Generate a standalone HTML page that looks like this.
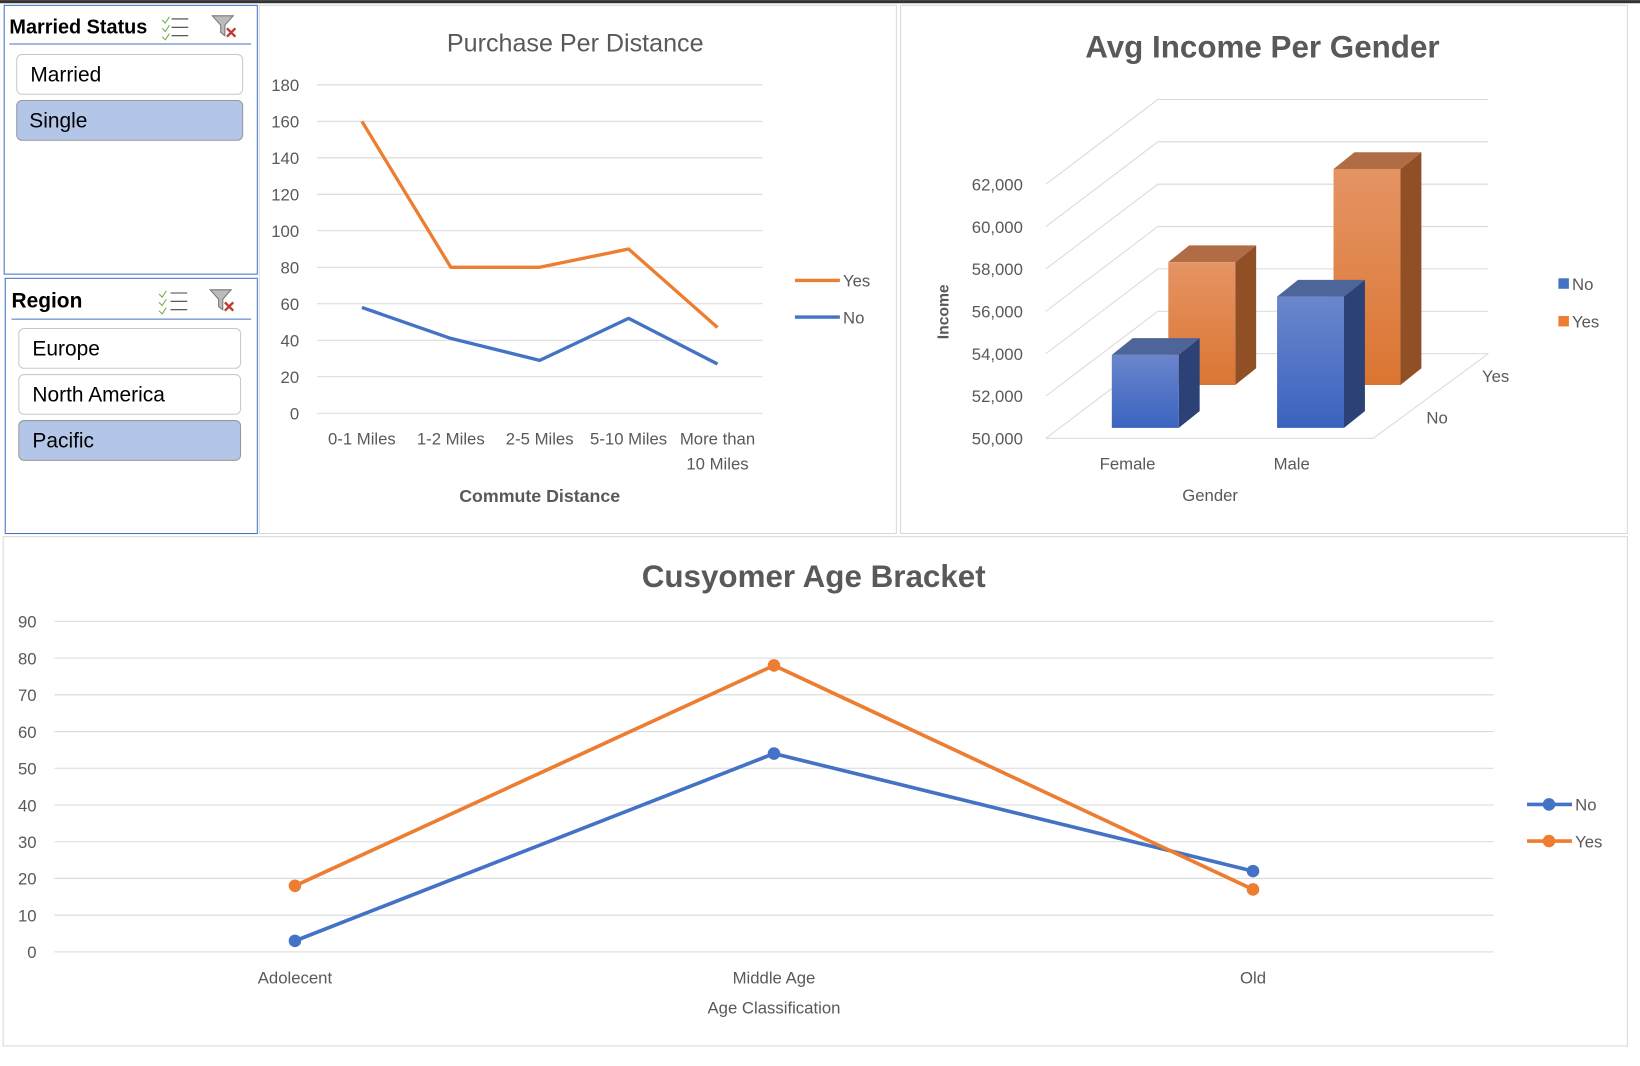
<!DOCTYPE html>
<html><head><meta charset="utf-8"><style>
html,body{margin:0;padding:0;background:#fff;}
svg{display:block;font-family:"Liberation Sans",sans-serif;}
</style></head><body>
<svg id="root" width="1640" height="1066" viewBox="0 0 1568 1019">
<defs>
<linearGradient id="gb" x1="0" y1="0" x2="0" y2="1"><stop offset="0" stop-color="#6b86cc"/><stop offset="1" stop-color="#3a63c0"/></linearGradient>
<linearGradient id="go" x1="0" y1="0" x2="0" y2="1"><stop offset="0" stop-color="#e59464"/><stop offset="1" stop-color="#db7532"/></linearGradient>
</defs>
<rect x="0" y="0" width="1568" height="3" fill="#333"/>
<g>
<rect x="4" y="5" width="242" height="257" fill="#fff" stroke="#4472c4" stroke-width="1"/>
<text x="9" y="32" font-size="19" font-weight="bold" fill="#000">Married Status</text>
<g><path d="M155 19l3 3 4-6M155 27l3 3 4-6M155 35l3 3 4-6" stroke="#70ad47" fill="none"/><path d="M164 18h16M164 26h16M164 34h16" stroke="#444"/></g>
<g><path d="M203 15h20l-8 9v10l-4-3v-7z" fill="#bbb" stroke="#777"/><path d="M217 27l8 8M225 27l-8 8" stroke="#c0392b" stroke-width="2.2"/></g>
<line x1="9" y1="42" x2="240" y2="42" stroke="#4472c4"/>
<rect x="16" y="52" width="216" height="38" rx="5" fill="#fff" stroke="#c8c8c8"/>
<text x="29" y="78" font-size="20" fill="#000">Married</text>
<rect x="16" y="96" width="216" height="38" rx="5" fill="#b4c6e7" stroke="#999"/>
<text x="28" y="122" font-size="20" fill="#000">Single</text>
</g>
<g>
<rect x="5" y="266" width="241" height="244" fill="#fff" stroke="#4472c4"/>
<text x="11" y="294" font-size="20" font-weight="bold" fill="#000">Region</text>
<g><path d="M152 281l3 3 4-6M152 289l3 3 4-6M152 297l3 3 4-6" stroke="#70ad47" fill="none"/><path d="M163 280h16M163 288h16M163 296h16" stroke="#444"/></g>
<g><path d="M201 277h20l-8 9v10l-4-3v-7z" fill="#bbb" stroke="#777"/><path d="M215 289l8 8M223 289l-8 8" stroke="#c0392b" stroke-width="2.2"/></g>
<line x1="11" y1="305" x2="240" y2="305" stroke="#4472c4"/>
<rect x="18" y="314" width="212" height="38" rx="5" fill="#fff" stroke="#c8c8c8"/>
<text x="31" y="340" font-size="20" fill="#000">Europe</text>
<rect x="18" y="358" width="212" height="38" rx="5" fill="#fff" stroke="#c8c8c8"/>
<text x="31" y="384" font-size="20" fill="#000">North America</text>
<rect x="18" y="402" width="212" height="38" rx="5" fill="#b4c6e7" stroke="#999"/>
<text x="31" y="428" font-size="20" fill="#000">Pacific</text>
</g>
<rect x="248" y="5" width="609" height="505" fill="none" stroke="#d9d9d9"/>
<rect x="861" y="5" width="695" height="505" fill="none" stroke="#d9d9d9"/>
<rect x="3" y="513" width="1553" height="487" fill="none" stroke="#d9d9d9"/>
<g id="c1"></g><g id="c2"></g><g id="c3"></g>
</svg>
<script>
const distCats = ["0-1 Miles","1-2 Miles","2-5 Miles","5-10 Miles","More than|10 Miles"];
const distYes = [160,80,80,90,47];
const distNo = [58,41,29,52,27];
const distTicks = [0,20,40,60,80,100,120,140,160,180];
const genders = ["Female","Male"];
const incomeNo = [53450,56200];
const incomeYes = [55800,60200];
const incomeTicks = [50000,52000,54000,56000,58000,60000,62000];
const ageCats = ["Adolecent","Middle Age","Old"];
const ageNo = [3,54,22];
const ageYes = [18,78,17];
const ageTicks = [0,10,20,30,40,50,60,70,80,90];

const NS="http://www.w3.org/2000/svg";
function mk(parent,tag,attrs,txt){const e=document.createElementNS(NS,tag);for(const k in attrs)e.setAttribute(k,attrs[k]);if(txt!=null)e.textContent=txt;parent.appendChild(e);return e;}
const ORANGE="#ed7d31",BLUE="#4472c4",GRAY="#595959";

(function(){
const g=document.getElementById('c1');
const y=v=>395-v*(314/180);
const x=i=>346+i*85;
const t=mk(g,'text',{x:550,y:49,'font-size':24,'text-anchor':'middle',fill:GRAY});
t.textContent="Purchase Per Distance";
distTicks.forEach(v=>{
 const l=mk(g,'line',{x1:303,x2:729,y1:y(v),y2:y(v),stroke:'#d9d9d9'});
 
 const tx=mk(g,'text',{x:286,y:y(v)+6,'font-size':16,'text-anchor':'end',fill:GRAY},v);
 
});
distCats.forEach((c,i)=>{
 c.split('|').forEach((p,j)=>{
  const tx=mk(g,'text',{x:x(i),y:425+j*24,'font-size':16,'text-anchor':'middle',fill:GRAY},p);
  
 });
});
const xt=mk(g,'text',{x:516,y:480,'font-size':17,'font-weight':'bold','text-anchor':'middle',fill:GRAY},"Commute Distance");

[[distYes,ORANGE,'yes'],[distNo,BLUE,'no']].forEach(([d,c,n])=>{
 const p=mk(g,'polyline',{points:d.map((v,i)=>x(i)+','+y(v)).join(' '),fill:'none',stroke:c,'stroke-width':3.2,'stroke-linejoin':'round'});
 
});
[['Yes',ORANGE,268],['No',BLUE,303]].forEach(([n,c,yy])=>{
 const lg=mk(g,'g',{});
 
 mk(lg,'line',{x1:760,x2:803,y1:yy,y2:yy,stroke:c,'stroke-width':3.2});
 mk(lg,'text',{x:806,y:yy+6,'font-size':16,fill:GRAY},n);
});
})();

(function(){
const g=document.getElementById('c2');
const t=mk(g,'text',{x:1207,y:55,'font-size':30,'font-weight':'bold','text-anchor':'middle',fill:GRAY},"Avg Income Per Gender");

const step=40.5/2000;
const yF=v=>419-(v-50000)*step;
incomeTicks.forEach(v=>{
 const yf=yF(v),yb=yf-81;
 const gl=mk(g,'polyline',{points:`1000,${yf} 1107,${yb} 1423,${yb}`,fill:'none',stroke:'#d9d9d9'});
 
 const tx=mk(g,'text',{x:978,y:yf+6,'font-size':16,'text-anchor':'end',fill:GRAY},v.toLocaleString('en-US'));
 
});
mk(g,'polyline',{points:'1000,419 1313,419 1423,338',fill:'none',stroke:'#d9d9d9'});
function bar(x0,base,val,cf,ct,cs,name){
 const b=mk(g,'g',{});
 
 const yt=base-(val-50000)*step,w=64,dx=20,dy=16;
 mk(b,'polygon',{points:`${x0+w},${base} ${x0+w+dx},${base-dy} ${x0+w+dx},${yt-dy} ${x0+w},${yt}`,fill:cs});
 mk(b,'polygon',{points:`${x0},${yt} ${x0+dx},${yt-dy} ${x0+w+dx},${yt-dy} ${x0+w},${yt}`,fill:ct});
 mk(b,'rect',{x:x0,y:yt,width:w,height:base-yt,fill:cf});
}
genders.forEach((gn,i)=>{
 bar(1117+i*158,368,incomeYes[i],'url(#go)','#b06d45','#914f26','bar-yes-'+gn.toLowerCase());
});
genders.forEach((gn,i)=>{
 bar(1063+i*158,409,incomeNo[i],'url(#gb)','#4e6599','#2c4176','bar-no-'+gn.toLowerCase());
 const tx=mk(g,'text',{x:1078+i*157,y:449,'font-size':16,'text-anchor':'middle',fill:GRAY},gn);
 
});
const xt=mk(g,'text',{x:1157,y:479,'font-size':16,'text-anchor':'middle',fill:GRAY},"Gender");

const yt=mk(g,'text',{x:0,y:0,'font-size':15,'font-weight':'bold','text-anchor':'middle',fill:GRAY,transform:'translate(907,298) rotate(-90)'},"Income");

[['Yes',1430,365],['No',1374,405]].forEach(([n,xx,yy])=>{
 const tx=mk(g,'text',{x:xx,y:yy,'font-size':16,'text-anchor':'middle',fill:GRAY},n);
 
});
[['No',BLUE,271],['Yes',ORANGE,307]].forEach(([n,c,yy])=>{
 const lg=mk(g,'g',{});
 
 mk(lg,'rect',{x:1490,y:yy-5,width:10,height:10,fill:c});
 mk(lg,'text',{x:1503,y:yy+6,'font-size':16,fill:GRAY},n);
});
})();

(function(){
const g=document.getElementById('c3');
const y=v=>910-v*(316/90);
const x=i=>282+i*458;
const t=mk(g,'text',{x:778,y:561,'font-size':30,'font-weight':'bold','text-anchor':'middle',fill:GRAY},"Cusyomer Age Bracket");

ageTicks.forEach(v=>{
 const l=mk(g,'line',{x1:52,x2:1428,y1:y(v),y2:y(v),stroke:'#d9d9d9'});
 
 const tx=mk(g,'text',{x:35,y:y(v)+6,'font-size':16,'text-anchor':'end',fill:GRAY},v);
 
});
ageCats.forEach((c,i)=>{
 const tx=mk(g,'text',{x:x(i),y:940,'font-size':16,'text-anchor':'middle',fill:GRAY},c);
 
});
const xt=mk(g,'text',{x:740,y:969,'font-size':16,'text-anchor':'middle',fill:GRAY},"Age Classification");

[[ageNo,BLUE,'no'],[ageYes,ORANGE,'yes']].forEach(([d,c,n])=>{
 const p=mk(g,'polyline',{points:d.map((v,i)=>x(i)+','+y(v)).join(' '),fill:'none',stroke:c,'stroke-width':3.5,'stroke-linejoin':'round'});
 
 d.forEach((v,i)=>{
  const m=mk(g,'circle',{cx:x(i),cy:y(v),r:6,fill:c});
  
 });
});
[['No',BLUE,769],['Yes',ORANGE,804]].forEach(([n,c,yy])=>{
 const lg=mk(g,'g',{});
 
 mk(lg,'line',{x1:1460,x2:1503,y1:yy,y2:yy,stroke:c,'stroke-width':3.5});
 mk(lg,'circle',{cx:1481,cy:yy,r:6,fill:c});
 mk(lg,'text',{x:1506,y:yy+6,'font-size':16,fill:GRAY},n);
});
})();
</script>
</body></html>
